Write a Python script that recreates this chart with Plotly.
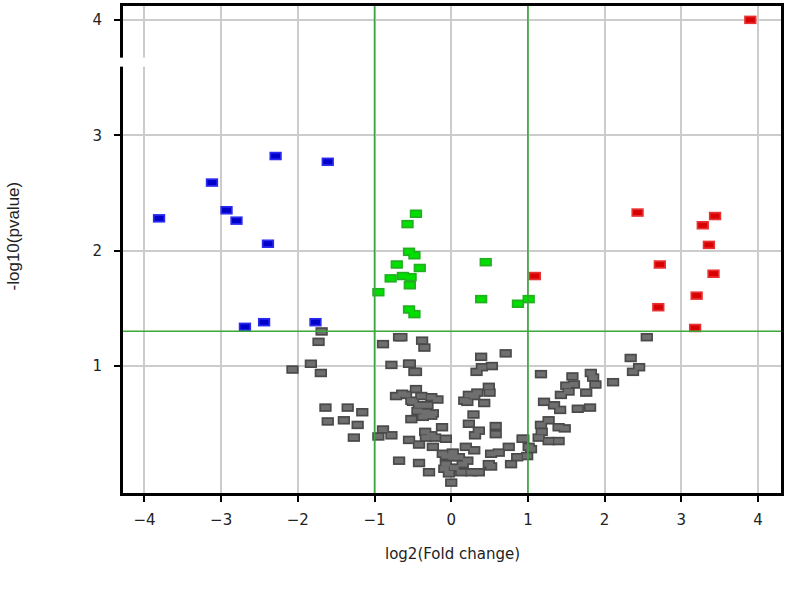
import plotly.graph_objects as go

# ---- data (log2 fold change, -log10 p-value) ----
blue_x = [-3.81, -3.12, -2.93, -2.80, -2.29, -1.61, -2.39, -2.69, -2.44, -1.77]
blue_y = [2.28, 2.59, 2.35, 2.26, 2.82, 2.77, 2.06, 1.34, 1.38, 1.38]

red_x = [3.90, 2.43, 3.44, 3.28, 3.36, 2.72, 3.42, 1.09, 3.20, 2.70, 3.18]
red_y = [4.00, 2.33, 2.30, 2.22, 2.05, 1.88, 1.80, 1.78, 1.61, 1.51, 1.33]

green_x = [-0.46, -0.57, -0.55, -0.48, -0.71, -0.41, -0.79, -0.63, -0.53, -0.54,
           -0.95, -0.55, -0.48, 0.45, 0.39, 0.87, 1.01]
green_y = [2.32, 2.23, 1.99, 1.96, 1.88, 1.85, 1.76, 1.78, 1.77, 1.70,
           1.64, 1.49, 1.45, 1.90, 1.58, 1.54, 1.58]

gray_x = [-1.69, -1.73, -1.83, -2.07, -1.70, -1.64, -1.35, -1.16, -1.61, -1.40,
          -1.22, -1.27, -0.89, -0.68, -0.78, -0.55, -0.48, -0.89, -0.95, -0.78,
          -0.68, -0.65, -0.38, -0.35, -0.54, -0.46, 0.39, 0.71, 0.40, 0.53,
          0.33, -0.59, -0.46, -0.39, -0.26, -0.18, -0.50, -0.42, -0.31, -0.44,
          -0.33, -0.24, -0.52, -0.37, -0.26, -0.72, -0.64, -0.52, 0.21, 0.23,
          0.34, 0.43, 0.49, 0.50, 0.30, 0.29, 0.23, 0.36, 0.31, 0.58,
          0.58, 0.17, -0.55, -0.42, -0.34, -0.26, -0.21, -0.12, -0.07, -0.24,
          -0.33, -0.42, -0.29, -0.07, 0.02, 0.10, 0.19, 0.30, -0.07, 0.04,
          0.15, 0.21, -0.03, 0.13, 0.00, -0.09, 0.26, 0.36, 0.52, 0.62,
          0.52, 0.75, 0.78, 0.86, 0.93, 1.04, 0.99, -0.11, 0.49, 0.02,
          2.55, 2.34, 2.45, 2.37, 2.11, 1.17, 1.82, 1.85, 1.88, 1.58,
          1.60, 1.50, 1.53, 1.43, 1.76, 1.21, 1.34, 1.42, 1.65, 1.81,
          1.27, 1.17, 1.40, 1.48, 1.18, 1.14, 1.27, 1.40, 0.94, 1.01]
gray_y = [1.30, 1.21, 1.02, 0.97, 0.94, 0.64, 0.64, 0.60, 0.52, 0.53,
          0.49, 0.38, 1.19, 1.25, 1.01, 1.02, 0.95, 0.45, 0.39, 0.40,
          0.18, 1.25, 1.22, 1.16, 1.02, 0.95, 1.08, 1.11, 0.99, 1.00,
          0.95, 0.75, 0.80, 0.74, 0.73, 0.71, 0.69, 0.66, 0.66, 0.61,
          0.60, 0.59, 0.54, 0.56, 0.57, 0.74, 0.76, 0.70, 0.69, 0.75,
          0.77, 0.68, 0.82, 0.77, 0.74, 0.58, 0.50, 0.44, 0.40, 0.48,
          0.41, 0.70, 0.36, 0.32, 0.43, 0.40, 0.38, 0.47, 0.37, 0.30,
          0.38, 0.16, 0.08, 0.22, 0.21, 0.21, 0.30, 0.27, 0.15, 0.12,
          0.15, 0.18, 0.07, 0.08, -0.01, 0.11, 0.08, 0.08, 0.24, 0.25,
          0.13, 0.30, 0.15, 0.21, 0.37, 0.28, 0.22, 0.24, 0.15, 0.25,
          1.25, 1.07, 0.99, 0.95, 0.86, 0.93, 0.94, 0.90, 0.84, 0.91,
          0.84, 0.83, 0.78, 0.75, 0.77, 0.69, 0.66, 0.62, 0.63, 0.64,
          0.53, 0.49, 0.47, 0.46, 0.43, 0.38, 0.35, 0.35, 0.37, 0.30]

x_ticks = [-4, -3, -2, -1, 0, 1, 2, 3, 4]
y_ticks = [1, 2, 3, 4]
fc_cut = [-1, 1]
p_cut = 1.301

fig = go.Figure()


def add_rects(x, y, border, fill):
    # rectangle-like markers built from thick horizontal line symbols
    fig.add_trace(go.Scatter(
        x=x, y=y, mode="markers", hoverinfo="skip", showlegend=False,
        marker=dict(symbol="line-ew", size=8.8, color=border,
                    line=dict(color=border, width=8.5))))
    fig.add_trace(go.Scatter(
        x=x, y=y, mode="markers", showlegend=False,
        marker=dict(symbol="line-ew", size=6.4, color=fill,
                    line=dict(color=fill, width=5))))


add_rects(gray_x, gray_y, "#4a4a4a", "#6f6f6f")
add_rects(green_x, green_y, "#22b022", "#00e000")
add_rects(blue_x, blue_y, "#2a2af0", "#0000c8")
add_rects(red_x, red_y, "#e83030", "#d80000")

for v in fc_cut:
    fig.add_vline(x=v, line=dict(color="#3aa83a", width=1.6), layer="above")
fig.add_hline(y=p_cut, line=dict(color="#3aa83a", width=1.4), layer="above")

# axis break marker on left spine
fig.add_shape(type="rect", xref="paper", yref="paper",
              x0=-0.01, x1=0.037, y0=0.8755, y1=0.894,
              fillcolor="white", line=dict(width=0), layer="above")

fig.update_xaxes(range=[-4.28, 4.30], tickvals=x_ticks,
                 showgrid=True, gridcolor="#cccccc", gridwidth=1.5,
                 zeroline=False, showline=True, linecolor="black", linewidth=3,
                 mirror=True, ticks="outside", ticklen=6, tickwidth=2,
                 tickcolor="black", ticklabelstandoff=5,
                 tickfont=dict(family="DejaVu Sans", size=15, color="#222"))
fig.update_yaxes(range=[-0.10, 4.12], tickvals=y_ticks,
                 showgrid=True, gridcolor="#cccccc", gridwidth=1.5,
                 zeroline=False, showline=True, linecolor="black", linewidth=3,
                 mirror=True, ticks="outside", ticklen=6, tickwidth=2,
                 tickcolor="black", ticklabelstandoff=9,
                 tickfont=dict(family="DejaVu Sans", size=15, color="#222"))

fig.add_annotation(text="log2(Fold change)", xref="paper", yref="paper",
                   x=0.5, y=-0.126, yanchor="middle", showarrow=False,
                   font=dict(family="DejaVu Sans", size=15, color="#222"))
fig.add_annotation(text="-log10(pvalue)", xref="paper", yref="paper",
                   x=-0.167, xanchor="center", y=0.527, yanchor="middle",
                   textangle=-90, showarrow=False,
                   font=dict(family="Liberation Sans", size=17, color="#222"))

fig.update_layout(width=787, height=597, plot_bgcolor="white",
                  paper_bgcolor="white",
                  margin=dict(l=123, r=4, t=3, b=104))

fig.write_html("out.html", config={"displayModeBar": False},
               post_script="document.body.style.margin='0';")
